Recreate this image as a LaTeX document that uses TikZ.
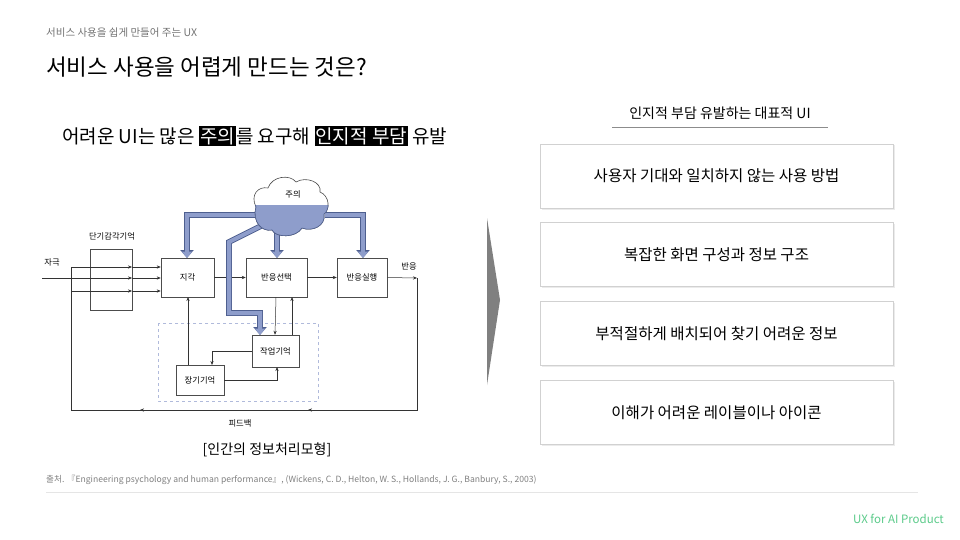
\documentclass[tikz,border=0pt]{standalone}
\usepackage{fontspec}
\setmainfont{Noto Sans CJK KR}
\usetikzlibrary{arrows.meta}
\definecolor{att}{HTML}{8E9DCB}
\definecolor{attd}{HTML}{4E5F8F}
\definecolor{brandc}{HTML}{5BCB8A}
\tikzset{
  bx/.style={draw=black!70,line width=0.5pt,fill=white,inner sep=0pt,font=\fontsize{8.3}{9}\selectfont},
  ln/.style={draw=black!80,line width=0.5pt},
  arr/.style={ln,-{Stealth[length=4pt,width=3.2pt]}},
  thick arr/.style={draw=attd,line width=5.6pt,-{Triangle[length=8pt,width=13pt]}},
  thin arr/.style={draw=att,line width=4pt,-{Triangle[length=6.5pt,width=10pt]}},
  ubox/.style={draw=black!18,fill=white,line width=0.7pt,minimum width=353pt,minimum height=64pt,font=\fontsize{15.5}{17}\selectfont},
  lab/.style={font=\fontsize{8.3}{9}\selectfont,inner sep=0pt},
}
\newcommand{\hl}[1]{{\setlength{\fboxsep}{1pt}\colorbox{black}{\color{white}#1}}}
\begin{document}
\begin{tikzpicture}[x=1pt,y=-1pt]
\useasboundingbox (0,0) rectangle (960,540);
\fill[white] (0,0) rectangle (960,540);
\node[anchor=west,text=black!55,font=\fontsize{10.5}{12}\selectfont,inner sep=0pt] (hdr) at (46,33) {서비스 사용을 쉽게 만들어 주는 UX};
\node[anchor=west,font=\fontsize{22.5}{25}\selectfont,inner sep=0pt] (ttl) at (46,67) {서비스 사용을 어렵게 만드는 것은?};
\node[anchor=west,font=\fontsize{19}{21}\selectfont,inner sep=0pt] (head) at (62,136) {어려운 UI는 많은 \hl{주의}를 요구해 \hl{인지적 부담} 유발};

% diagram
\node[bx,minimum width=42pt,minimum height=61pt] (stm) at (111,279.5) {};
\node[lab] (stmL) at (112,236) {단기감각기억};
\node[bx,minimum width=53pt,minimum height=39pt] (perc) at (187.5,277.5) {지각};
\node[bx,minimum width=61pt,minimum height=39pt] (sel) at (276.5,277.5) {반응선택};
\node[bx,minimum width=50pt,minimum height=39pt] (exe) at (362,277.5) {반응실행};
\draw[dashed,draw=att!70,line width=0.8pt] (158,323) rectangle (318,401);
\node[bx,minimum width=47pt,minimum height=32pt] (wm) at (275.5,351) {작업기억};
\node[bx,minimum width=48pt,minimum height=30pt] (ltm) at (200,380) {장기기억};
\node[lab] (stim) at (52,262) {자극};
\node[lab] (resp) at (409,266) {반응};
\node[lab] (fb) at (240,423) {피드백};

\coordinate (in0) at (42,278);
\coordinate (fbl) at (71,278);
\draw[ln] (in0) -- (fbl);
\foreach \yy in {267,278,291}{
  \draw[arr] (71,\yy) -- (132,\yy);
  \draw[arr] (132,\yy) -- (perc.west |- 0,\yy);
}
\draw[arr] (perc.east) -- (sel.west);
\draw[arr] (sel.east) -- (exe.west);
\coordinate (rc) at (417,278);
\draw[arr] (exe.east) -- (rc);
\draw[ln] (rc) -- (417,410) -- (71,410) -- (71,267);
\draw[arr] (330,410) -- (308,410);
\draw[arr] (160,410) -- (140,410);
\draw[arr] ([xshift=-0.5pt]sel.south) -- ([xshift=-0.5pt]wm.north);
\draw[arr] (292,335) -- (292,297);
\draw[arr] (ltm.north -| 188,0) -- (188,297);
\draw[arr] (wm.west) -| (212,365);
\draw[arr] (ltm.east) -| (277,367);

% attention arrows
\coordinate (cl) at (257,215);
\draw[thick arr] (cl) -- (187,215) -- (187,258);
\draw[thick arr] (325,215) -- (363,215) -- (363,258);
\draw[thick arr] (277,225) -- (277,258);
\draw[thick arr] (265,224) -- (229,242) -- (229,313) -- (260,313) -- (260,335);
\draw[thin arr] (cl) -- (187,215) -- (187,258);
\draw[thin arr] (325,215) -- (363,215) -- (363,258);
\draw[thin arr] (277,225) -- (277,258);
\draw[thin arr] (265,224) -- (229,242) -- (229,313) -- (260,313) -- (260,335);
% cloud
\begin{scope}
\clip (240,170) rectangle (340,240);
\draw[fill=white,draw=black!70,line width=0.6pt]
 (256,207) .. controls (250,195) and (258,186) .. (268,188)
 .. controls (272,176) and (290,174) .. (296,182)
 .. controls (306,176) and (322,182) .. (320,192)
 .. controls (330,196) and (330,210) .. (324,214)
 .. controls (326,226) and (312,232) .. (302,228)
 .. controls (296,238) and (276,238) .. (272,230)
 .. controls (262,232) and (252,222) .. (256,207) -- cycle;
\clip (240,205) rectangle (340,240);
\fill[att,draw=attd,line width=0.6pt]
 (256,207) .. controls (250,195) and (258,186) .. (268,188)
 .. controls (272,176) and (290,174) .. (296,182)
 .. controls (306,176) and (322,182) .. (320,192)
 .. controls (330,196) and (330,210) .. (324,214)
 .. controls (326,226) and (312,232) .. (302,228)
 .. controls (296,238) and (276,238) .. (272,230)
 .. controls (262,232) and (252,222) .. (256,207) -- cycle;
\end{scope}
\node[lab] (attn) at (293,194) {주의};

\node[font=\fontsize{14}{16}\selectfont] (cap) at (267,450) {[인간의 정보처리모형]};
\node[anchor=west,text=black!50,font=\fontsize{8.6}{10}\selectfont,inner sep=0pt] (src) at (46,480) {출처. 『Engineering psychology and human performance』, (Wickens, C. D., Helton, W. S., Hollands, J. G., Banbury, S., 2003)};
\draw[black!10,line width=0.6pt] (46,492) -- (918,492);
\node[anchor=east,text=brandc,font=\fontsize{11.5}{13}\selectfont,inner sep=0pt] (brand) at (944,519) {UX for AI Product};

% chevron
\fill[black!50] (487,218) -- (500,300) -- (487,385) -- cycle;

% right side
\node[font=\fontsize{14}{16}\selectfont] (rt) at (720,113) {인지적 부담 유발하는 대표적 UI};
\draw[black!45,line width=0.6pt] (612,127) -- (828,127);
\foreach \n/\yy/\t in {a/176/사용자 기대와 일치하지 않는 사용 방법,b/254.5/복잡한 화면 구성과 정보 구조,c/333.5/부적절하게 배치되어 찾기 어려운 정보,d/412.5/이해가 어려운 레이블이나 아이콘}{
  \fill[black!8] (541.5,\yy-30.5) rectangle (895,\yy+33.5);
  \node[ubox] (u\n) at (716.5,\yy) {\t};
}
\end{tikzpicture}
\end{document}
